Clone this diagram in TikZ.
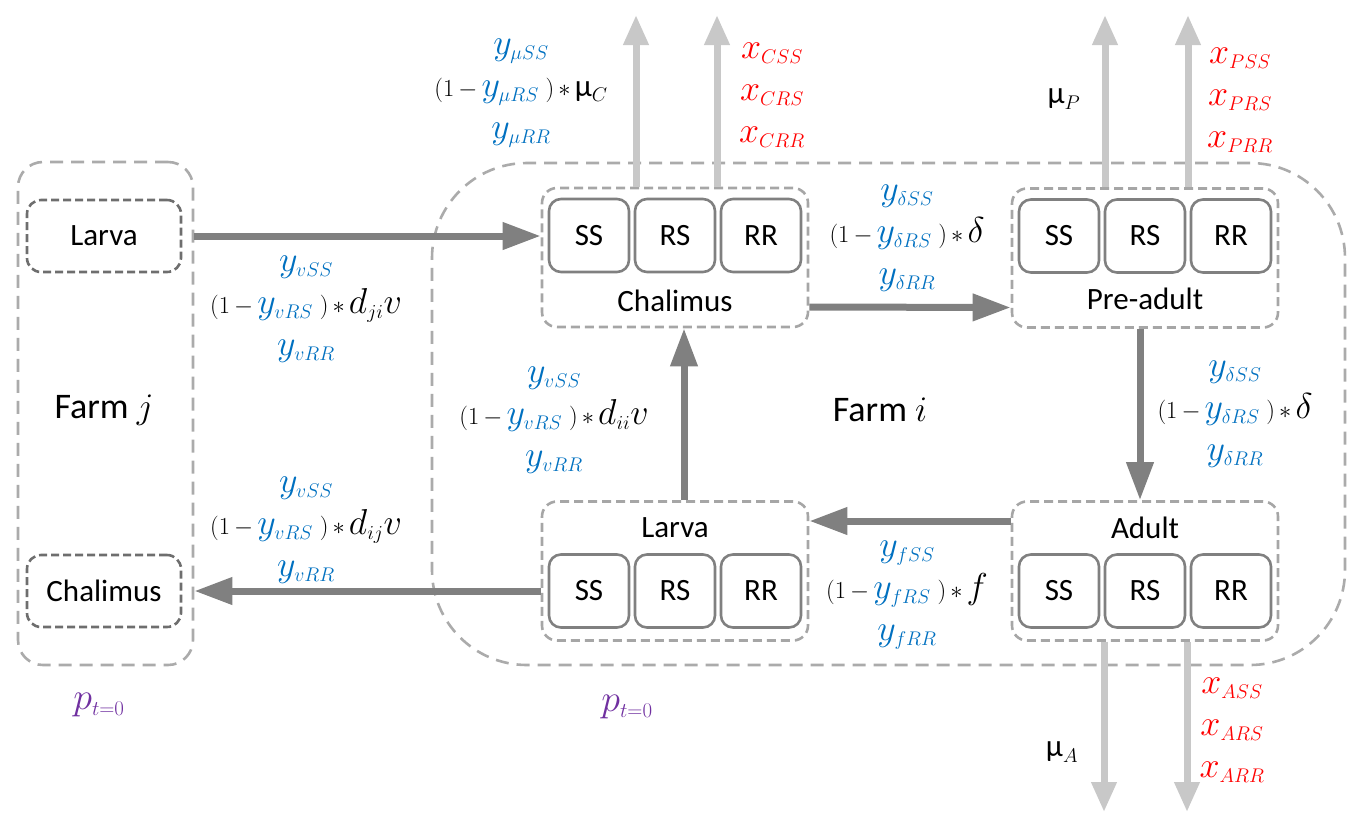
\RequirePackage{fix-cm}
\documentclass[tikz,border=0pt]{standalone}
\usepackage[no-math]{fontspec}
\setmainfont{Carlito}
\usetikzlibrary{arrows.meta}
\renewcommand\defaultscriptratio{.55}
\renewcommand\defaultscriptscriptratio{.45}

\definecolor{farmgray}{HTML}{ABABAB}
\definecolor{grpgray}{HTML}{A6A6A6}
\definecolor{cellgray}{HTML}{808080}
\definecolor{jgray}{HTML}{6E6E6E}
\definecolor{arrgray}{HTML}{808080}
\definecolor{lossgray}{HTML}{C8C8C8}
\definecolor{yblue}{HTML}{0070C0}
\definecolor{xred}{HTML}{FF0000}
\definecolor{ppurple}{HTML}{7030A0}

\newcommand\bigtxt{\fontsize{31}{36}\selectfont}
\newcommand\farmtxt{\fontsize{36}{40}\selectfont}
\newcommand\ratefont{\fontsize{36}{42}\selectfont}
\newcommand\mutxt{\fontsize{31}{36}\selectfont}
\newcommand\smallpart{\fontsize{24.5}{26}\selectfont}
\newcommand\yc[1]{\textcolor{yblue}{$y_{#1}$}}
\newcommand\xr[1]{\textcolor{xred}{$x_{#1}$}}
\newcommand\midl[2]{{\smallpart$(1\,{-}\,$}\yc{#1}{\smallpart$\;)\,\ast\,$}#2}
\newcommand\mus[1]{{\mutxt μ}$_{#1}$}

\tikzset{
  farm/.style={draw=farmgray, line width=2.6pt, dash pattern=on 13pt off 8pt, rounded corners=#1, inner sep=0pt},
  grp/.style={draw=grpgray, line width=2.6pt, dash pattern=on 9pt off 5pt, rounded corners=15pt,
              minimum width=266pt, minimum height=139pt, inner sep=0pt},
  cell/.style={draw=cellgray, line width=2.6pt, rounded corners=12pt, minimum width=80pt,
               minimum height=73pt, inner sep=0pt, font=\bigtxt},
  jbox/.style={draw=jgray, line width=2.6pt, dash pattern=on 8pt off 4pt, rounded corners=14pt,
               minimum width=154pt, minimum height=72pt, inner sep=0pt, font=\bigtxt},
  lbl/.style={font=\bigtxt, inner sep=0pt},
  flow/.style={draw=arrgray, line width=7pt, -{Triangle[length=38pt,width=26pt]}},
  loss/.style={draw=lossgray, line width=7pt, -{Triangle[length=30pt,width=24pt]}},
  rate/.style={align=center, font=\ratefont, inner sep=0pt},
}

\begin{document}
\begin{tikzpicture}[x=1pt,y=-1pt]
\useasboundingbox (0,0) rectangle (1349,815);

% farm outlines
\node[farm=25pt, minimum width=175pt, minimum height=503pt] (farmj) at (105.5,413.5) {};
\node[farm=95pt, minimum width=913pt, minimum height=502pt] (farmi) at (888.5,414) {};
\node[font=\farmtxt, inner sep=0pt] (farmjlab) at (104,410) {Farm $j$};
\node[font=\farmtxt, inner sep=0pt] (farmilab) at (880,410) {Farm $i$};

% farm j stages
\node[jbox] (jlarva) at (104,236) {Larva};
\node[jbox] (jchal) at (104,591) {Chalimus};

% farm i stage groups
\node[grp] (cgrp) at (675,257.5) {};
\node[grp] (pgrp) at (1145,258) {};
\node[grp] (agrp) at (1145,571) {};
\node[grp] (lgrp) at (675,571) {};

\node[lbl] (clab) at (675,301) {Chalimus};
\node[lbl] (plab) at (1145,299) {Pre-adult};
\node[lbl] (alab) at (1145,528) {Adult};
\node[lbl] (llab) at (675,528) {Larva};

% genotype cells
\node[cell] (css) at (589,235.5) {SS};
\node[cell] (crs) at (675,235.5) {RS};
\node[cell] (crr) at (761,235.5) {RR};
\node[cell] (pss) at (1059,236) {SS};
\node[cell] (prs) at (1145,236) {RS};
\node[cell] (prr) at (1231,236) {RR};
\node[cell] (ass) at (1059,591) {SS};
\node[cell] (ars) at (1145,591) {RS};
\node[cell] (arr) at (1231,591) {RR};
\node[cell] (lss) at (589,591) {SS};
\node[cell] (lrs) at (675,591) {RS};
\node[cell] (lrr) at (761,591) {RR};

% stage transitions
\draw[flow] (farmj.east |- jlarva.east) -- (cgrp.west |- jlarva.east);
\draw[flow] ([yshift=-49.5pt]cgrp.east) -- ([yshift=-49.5pt]pgrp.west);
\draw[flow] ([xshift=-5pt]pgrp.south) -- ([xshift=-5pt]agrp.north);
\draw[flow] ([yshift=50pt]agrp.west) -- ([yshift=50pt]lgrp.east);
\draw[flow] ([xshift=9pt]lgrp.north) -- ([xshift=9pt]cgrp.south);
\draw[flow] (lgrp.west |- jchal.east) -- (farmj.east |- jchal.east);

% losses (mortality and treatment)
\coordinate (ct1) at (636,15);
\coordinate (ct2) at (717,15);
\coordinate (pt1) at (1105,15);
\coordinate (pt2) at (1188,15);
\coordinate (ab1) at (1104,812);
\coordinate (ab2) at (1187,812);
\draw[loss] (cgrp.north -| ct1) -- (ct1);
\draw[loss] (cgrp.north -| ct2) -- (ct2);
\draw[loss] (pgrp.north -| pt1) -- (pt1);
\draw[loss] (pgrp.north -| pt2) -- (pt2);
\draw[loss] (agrp.south -| ab1) -- (ab1);
\draw[loss] (agrp.south -| ab2) -- (ab2);

% rate labels
\node[rate] (muC) at (521,93) {\yc{\mu SS}\\ \midl{\mu RS}{\mus{C}}\\ \yc{\mu RR}};
\node[rate] (xC) at (772,95) {\xr{CSS}\\ \xr{CRS}\\ \xr{CRR}};
\node[rate] (muP) at (1064,99) {\mus{P}};
\node[rate] (xP) at (1240,100) {\xr{PSS}\\ \xr{PRS}\\ \xr{PRR}};
\node[rate] (dCP) at (907,238) {\yc{\delta SS}\\ \midl{\delta RS}{$\delta$}\\ \yc{\delta RR}};
\node[rate] (dPA) at (1235,414) {\yc{\delta SS}\\ \midl{\delta RS}{$\delta$}\\ \yc{\delta RR}};
\node[rate] (vji) at (306,309) {\yc{v SS}\\ \midl{v RS}{$d_{ji}v$}\\ \yc{v RR}};
\node[rate] (vii) at (554,420) {\yc{v SS}\\ \midl{v RS}{$d_{ii}v$}\\ \yc{v RR}};
\node[rate] (vij) at (306,530) {\yc{v SS}\\ \midl{v RS}{$d_{ij}v$}\\ \yc{v RR}};
\node[rate] (fAL) at (907,595) {\yc{f SS}\\ \midl{f RS}{$f$}\\ \yc{f RR}};
\node[rate] (muA) at (1062,752) {\mus{A}};
\node[rate] (xA) at (1232,730) {\xr{ASS}\\ \xr{ARS}\\ \xr{ARR}};

% initial proportions
\node[rate, font=\fontsize{38}{42}\selectfont] (p0j) at (99,705) {\textcolor{ppurple}{$p_{t=0}$}};
\node[rate, font=\fontsize{38}{42}\selectfont] (p0i) at (627,707) {\textcolor{ppurple}{$p_{t=0}$}};
\end{tikzpicture}
\end{document}
